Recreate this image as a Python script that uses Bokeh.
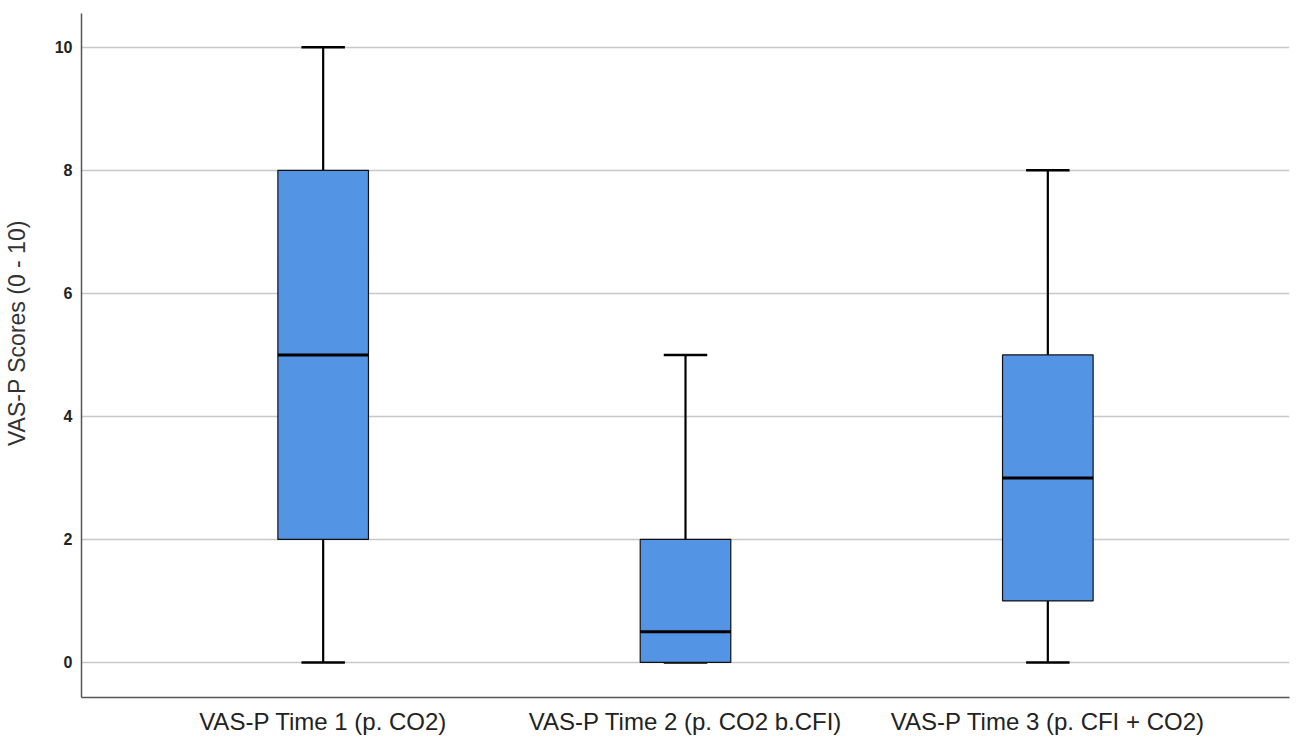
from bokeh.plotting import figure
from bokeh.models import FactorRange, Range1d, SingleIntervalTicker
from bokeh.embed import file_html
from bokeh.resources import INLINE

categories = ["VAS-P Time 1 (p. CO2)", "VAS-P Time 2 (p. CO2 b.CFI)", "VAS-P Time 3 (p. CFI + CO2)"]
mins = [0, 0, 0]
q1s = [2, 0, 1]
medians = [5, 0.5, 3]
q3s = [8, 2, 5]
maxs = [10, 5, 8]
y_title = "VAS-P Scores (0 - 10)"

BOX_W = 0.25
CAP_W = 0.12
FONT = "Liberation Sans"

p = figure(
    x_range=FactorRange(factors=categories, range_padding=0.167, range_padding_units="absolute"),
    y_range=Range1d(-0.57, 10.55),
    frame_width=1208, frame_height=684,
    min_border_left=81, min_border_top=13, min_border_right=9, min_border_bottom=36,
    output_backend="svg", toolbar_location=None,
)
p.outline_line_color = None
p.background_fill_color = "white"
p.border_fill_color = "white"

# whiskers
p.segment(x0=categories, y0=q3s, x1=categories, y1=maxs, line_color="black", line_width=2.2)
p.segment(x0=categories, y0=q1s, x1=categories, y1=mins, line_color="black", line_width=2.2)
# caps
p.segment(x0=[(c, -CAP_W / 2) for c in categories], y0=maxs,
          x1=[(c, CAP_W / 2) for c in categories], y1=maxs, line_color="black", line_width=2.5)
p.segment(x0=[(c, -CAP_W / 2) for c in categories], y0=mins,
          x1=[(c, CAP_W / 2) for c in categories], y1=mins, line_color="black", line_width=2.5)
# boxes
p.vbar(x=categories, width=BOX_W, bottom=q1s, top=q3s,
       fill_color="#5394E5", line_color="#111111", line_width=1.2)
# medians
p.segment(x0=[(c, -BOX_W / 2) for c in categories], y0=medians,
          x1=[(c, BOX_W / 2) for c in categories], y1=medians, line_color="black", line_width=3)

p.xgrid.grid_line_color = None
p.ygrid.grid_line_color = "#c8c8c8"
p.ygrid.grid_line_width = 1.6
p.yaxis.ticker = SingleIntervalTicker(interval=2)

for ax in (p.xaxis[0], p.yaxis[0]):
    ax.axis_line_color = "#555555"
    ax.axis_line_width = 1.5
    ax.major_tick_line_color = None
    ax.minor_tick_line_color = None
    ax.major_label_text_font = FONT
    ax.major_label_text_color = "#222222"

p.yaxis.major_label_text_font_size = "16px"
p.yaxis.major_label_text_font_style = "bold"
p.yaxis.major_label_standoff = 3
# leading no-break spaces nudge the centred title upward, as in the reference
p.yaxis.axis_label = "\u00a0" * 7 + y_title
p.yaxis.axis_label_text_font = FONT
p.yaxis.axis_label_text_font_size = "23px"
p.yaxis.axis_label_text_font_style = "normal"
p.yaxis.axis_label_text_color = "#333333"
p.yaxis.axis_label_standoff = 22

p.xaxis.major_label_text_font_size = "24px"
p.xaxis.major_label_standoff = 4

open("out.html", "w").write(file_html(p, INLINE))
